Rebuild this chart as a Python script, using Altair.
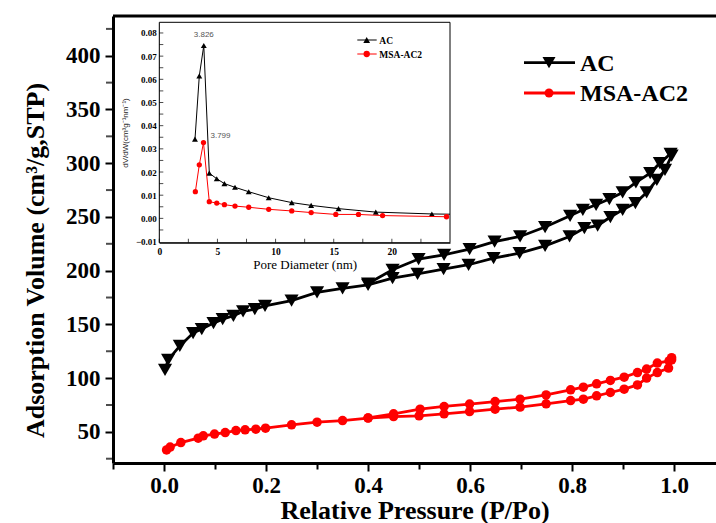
import altair as alt
import pandas as pd

# ---------------- main isotherm data ----------------
series_names = ["AC", "MSA-AC2"]

ac_ads_p = [0.002, 0.008, 0.031, 0.057, 0.074, 0.097, 0.115, 0.136, 0.155, 0.178, 0.198,
            0.25, 0.30, 0.35, 0.40, 0.448, 0.497, 0.548, 0.597, 0.646, 0.697, 0.747,
            0.795, 0.824, 0.85, 0.875, 0.899, 0.924, 0.946, 0.966, 0.982, 0.995]
ac_ads_v = [107.7, 117, 130, 141.9, 145.6, 151.2, 154.9, 158, 162, 164.2, 167.3,
            172.2, 179.7, 183.5, 186.8, 193.1, 197.1, 201.4, 205.5, 211.7, 216.3, 223.1,
            231.8, 239.6, 241.8, 249.9, 256.6, 262.9, 272.8, 284.6, 293.9, 307]
ac_des_p = [0.993, 0.972, 0.953, 0.925, 0.899, 0.873, 0.847, 0.821, 0.796, 0.747,
            0.698, 0.648, 0.599, 0.549, 0.499, 0.448, 0.40]
ac_des_v = [308.8, 300.1, 290.8, 282.1, 272.8, 266.6, 261.3, 256.6, 251.1, 240.6,
            231.8, 227.1, 220.1, 214.8, 210.8, 200.8, 188]

msa_ads_p = [0.005, 0.012, 0.033, 0.067, 0.077, 0.099, 0.12, 0.141, 0.159, 0.18, 0.199,
             0.25, 0.30, 0.35, 0.40, 0.45, 0.50, 0.549, 0.599, 0.649, 0.698, 0.749,
             0.797, 0.822, 0.848, 0.875, 0.902, 0.928, 0.946, 0.967, 0.989, 0.995]
msa_ads_v = [33.2, 35.8, 40.0, 44.1, 46.3, 47.9, 49.3, 51.2, 51.9, 52.5, 53.4,
             56.5, 59.0, 60.5, 62.8, 64.2, 64.9, 66.8, 68.9, 71.1, 73.0, 76.1,
             79.1, 80.4, 83.5, 86.6, 89.7, 93.7, 100, 105.2, 109.3, 117]
msa_des_p = [0.995, 0.99, 0.967, 0.946, 0.928, 0.902, 0.875, 0.848, 0.822, 0.797,
             0.749, 0.698, 0.649, 0.599, 0.549, 0.502, 0.45, 0.40]
msa_des_v = [119, 116, 114, 108.4, 105.2, 100.9, 97.8, 94.7, 91.6, 89.1,
             84.4, 80.4, 78.2, 75.8, 73.6, 71.1, 66.8, 63]

x_ticks = [-0.1, 0.0, 0.1, 0.2, 0.3, 0.4, 0.5, 0.6, 0.7, 0.8, 0.9, 1.0]
y_major = [50, 100, 150, 200, 250, 300, 350, 400]
y_minor = [25, 75, 125, 175, 225, 275, 325, 375, 425]

# ---------------- inset pore-size data ----------------
ac_d = [3.07, 3.44, 3.826, 4.30, 4.94, 5.60, 6.51, 7.69, 9.41, 11.39, 13.06, 15.41, 18.62, 23.44, 25.0]
ac_dv = [0.0342, 0.0615, 0.0746, 0.0195, 0.0171, 0.0150, 0.0134, 0.0115, 0.0089, 0.0068,
         0.0056, 0.0042, 0.0027, 0.0019, 0.0018]
msa_d = [3.10, 3.44, 3.799, 4.30, 4.94, 5.60, 6.51, 7.69, 9.41, 11.39, 13.06, 15.18, 17.13, 19.2, 24.7]
msa_dv = [0.0115, 0.0231, 0.0327, 0.0072, 0.0066, 0.0059, 0.0053, 0.0048, 0.0039, 0.0032,
          0.0025, 0.0017, 0.0017, 0.0012, 0.0007]
peak_labels = ["3.826", "3.799"]

inset_x_labels = [0, 5, 10, 15, 20]
inset_x_minor = [0, 2.5, 5, 7.5, 10, 12.5, 15, 17.5, 20, 22.5]
inset_y_labels = [-0.01, 0.0, 0.01, 0.02, 0.03, 0.04, 0.05, 0.06, 0.07, 0.08]
inset_y_minor = [-0.005, 0.0, 0.005, 0.01, 0.015, 0.02, 0.025, 0.03, 0.035, 0.04,
                 0.045, 0.05, 0.055, 0.06, 0.065, 0.07, 0.075, 0.08]

# ---------------- layout ----------------
W, H = 603, 447
SERIF = "Liberation Serif"
SANS = "Liberation Sans"

XMIN, XMAX = -0.1, 1.082
YMIN, YMAX = 21, 437
main_x = alt.Scale(domain=[XMIN, XMAX], nice=False, zero=False)
main_y = alt.Scale(domain=[YMIN, YMAX], nice=False, zero=False)

IXMIN, IXMAX = 0, 25
IYMIN, IYMAX = -0.0105, 0.0846
inset_x = alt.Scale(domain=[IXMIN, IXMAX], range=[46.3, 337], nice=False, zero=False)
inset_y = alt.Scale(domain=[IYMIN, IYMAX], range=[226.7, 6.3], nice=False, zero=False)


def path_df(p1, v1, p2, v2):
    p = list(p1) + list(p2)
    v = list(v1) + list(v2)
    return pd.DataFrame({"p": p, "v": v, "order": list(range(len(p)))})


ac_df = path_df(ac_ads_p, ac_ads_v, ac_des_p, ac_des_v)
msa_df = path_df(msa_ads_p, msa_ads_v, msa_des_p, msa_des_v)
dummy = pd.DataFrame({"k": [0]})

x_axis = alt.Axis(
    values=x_ticks,
    labelExpr="abs(round(datum.value*10)) % 2 == 0 ? format(datum.value, '.1f') : ''",
    tickSize={"condition": {"test": "abs(round(datum.value*10)) % 2 == 0", "value": 8}, "value": 6},
    title="Relative Pressure (P/Po)",
    labelFlush=False, labelOverlap=False, labelPadding=3, titlePadding=0,
    grid=False,
)
y_axis = alt.Axis(
    values=y_major, format="d", tickSize=8,
    title="Adsorption Volume (cm³/g,STP)",
    labelFlush=False, labelOverlap=False, labelPadding=5, titlePadding=17,
    titleY=244, grid=False,
)

ac_line = alt.Chart(ac_df).mark_line(color="black", strokeWidth=2.8).encode(
    x=alt.X("p:Q", scale=main_x, axis=x_axis),
    y=alt.Y("v:Q", scale=main_y, axis=y_axis),
    order="order:Q",
)
ac_pts = alt.Chart(ac_df).mark_point(shape="triangle-down", filled=True, color="black",
                                     size=200, opacity=1).encode(
    x=alt.X("p:Q", scale=main_x), y=alt.Y("v:Q", scale=main_y))
msa_line = alt.Chart(msa_df).mark_line(color="#ff0000", strokeWidth=2.8).encode(
    x=alt.X("p:Q", scale=main_x), y=alt.Y("v:Q", scale=main_y), order="order:Q")
msa_pts = alt.Chart(msa_df).mark_point(shape="circle", filled=True, color="#ff0000",
                                       size=90, opacity=1).encode(
    x=alt.X("p:Q", scale=main_x), y=alt.Y("v:Q", scale=main_y))

y_minor_ticks = alt.Chart(pd.DataFrame({"t": y_minor})).mark_tick(
    color="black", size=6, thickness=2, xOffset=-4, orient="horizontal").encode(
    y=alt.Y("t:Q", scale=main_y), x=alt.XDatum(XMIN, scale=main_x))

top_rule = alt.Chart(dummy).mark_rule(color="black", strokeWidth=3).encode(
    x=alt.XDatum(XMIN, scale=main_x), x2=alt.X2Datum(XMAX), y=alt.YDatum(YMAX, scale=main_y))


def legend_entry(y, color, shape, size, label, x0, x1, xm, xt, fs, sw):
    line = alt.Chart(dummy).mark_rule(color=color, strokeWidth=sw).encode(
        x=alt.value(x0), x2=alt.value(x1), y=alt.value(y))
    pt = alt.Chart(dummy).mark_point(shape=shape, filled=True, color=color, size=size,
                                     opacity=1).encode(x=alt.value(xm), y=alt.value(y))
    txt = alt.Chart(dummy).mark_text(align="left", baseline="middle", font=SERIF,
                                     fontWeight="bold", fontSize=fs, color="black").encode(
        x=alt.value(xt), y=alt.value(y + 1), text=alt.value(label))
    return [line, pt, txt]


main_legend = (legend_entry(46.7, "black", "triangle-down", 170, series_names[0], 411, 462, 436, 467, 24, 2.8)
               + legend_entry(77, "#ff0000", "circle", 80, series_names[1], 411, 462, 436, 467, 24, 2.8))

main = alt.layer(ac_line, ac_pts, msa_line, msa_pts, y_minor_ticks, top_rule, *main_legend)

# ---------------- inset ----------------
ins_ac_df = pd.DataFrame({"d": ac_d, "dv": ac_dv})
ins_msa_df = pd.DataFrame({"d": msa_d, "dv": msa_dv})

inset_x_axis = alt.Axis(
    orient="bottom", offset=-(H - 226.7), values=inset_x_labels, ticks=False,
    domainWidth=1, domainColor="black", labelFont=SERIF, labelFontWeight="bold",
    labelFontSize=9.5, labelPadding=4, labelFlush=False, grid=False,
    title="Pore Diameter (nm)", titleFont=SERIF, titleFontWeight="normal", titleFontSize=13,
    titlePadding=2, labelColor="black", titleColor="black",
)
inset_y_axis = alt.Axis(
    orient="left", offset=-46.3, values=inset_y_labels, format=".2f", ticks=False,
    domainWidth=1, domainColor="black", labelFont=SERIF, labelFontWeight="bold",
    labelFontSize=9, labelPadding=3, labelFlush=False, grid=False,
    title="dV/dW(cm³g⁻¹nm⁻¹)", titleFont=SANS, titleFontWeight="normal", titleFontSize=8,
    titlePadding=6, labelColor="black", titleColor="#222222",
)

inset_frame = alt.Chart(dummy).mark_rect(fill="white", stroke="black", strokeWidth=1).encode(
    x=alt.XDatum(IXMIN, scale=inset_x, axis=inset_x_axis), x2=alt.X2Datum(IXMAX),
    y=alt.YDatum(IYMIN, scale=inset_y, axis=inset_y_axis), y2=alt.Y2Datum(IYMAX))

ins_xt = alt.Chart(pd.DataFrame({"t": inset_x_minor})).mark_tick(
    color="black", size=4, thickness=1, yOffset=-2, orient="vertical").encode(
    x=alt.X("t:Q", scale=inset_x), y=alt.YDatum(IYMIN, scale=inset_y))
ins_yt = alt.Chart(pd.DataFrame({"t": inset_y_minor})).mark_tick(
    color="black", size=4, thickness=1, xOffset=2, orient="horizontal").encode(
    y=alt.Y("t:Q", scale=inset_y), x=alt.XDatum(IXMIN, scale=inset_x))

ins_ac_line = alt.Chart(ins_ac_df).mark_line(color="black", strokeWidth=1).encode(
    x=alt.X("d:Q", scale=inset_x), y=alt.Y("dv:Q", scale=inset_y))
ins_ac_pts = alt.Chart(ins_ac_df.iloc[:-1]).mark_point(shape="triangle-up", filled=True,
                                                       color="black", size=35, opacity=1).encode(
    x=alt.X("d:Q", scale=inset_x), y=alt.Y("dv:Q", scale=inset_y))
ins_msa_line = alt.Chart(ins_msa_df).mark_line(color="#ff0000", strokeWidth=1).encode(
    x=alt.X("d:Q", scale=inset_x), y=alt.Y("dv:Q", scale=inset_y))
ins_msa_pts = alt.Chart(ins_msa_df).mark_point(shape="circle", filled=True,
                                               color="#ff0000", size=28, opacity=1).encode(
    x=alt.X("d:Q", scale=inset_x), y=alt.Y("dv:Q", scale=inset_y))

ann1 = alt.Chart(pd.DataFrame({"d": [ac_d[2]], "dv": [ac_dv[2]], "t": [peak_labels[0]]})).mark_text(
    font=SANS, fontSize=8, color="#555555", dy=-10, align="center").encode(
    x=alt.X("d:Q", scale=inset_x), y=alt.Y("dv:Q", scale=inset_y), text="t:N")
ann2 = alt.Chart(pd.DataFrame({"d": [msa_d[2]], "dv": [msa_dv[2]], "t": [peak_labels[1]]})).mark_text(
    font=SANS, fontSize=8, color="#555555", dx=7, dy=-7, align="left").encode(
    x=alt.X("d:Q", scale=inset_x), y=alt.Y("dv:Q", scale=inset_y), text="t:N")

inset_legend = (legend_entry(24, "black", "triangle-up", 45, series_names[0], 244.3, 263.7, 253.7, 266.3, 9.5, 1)
                + legend_entry(38, "#ff0000", "circle", 40, series_names[1], 244.3, 263.7, 253.7, 266.3, 9.5, 1))

inset = alt.layer(inset_frame, ins_xt, ins_yt, ins_ac_line, ins_ac_pts, ins_msa_line, ins_msa_pts,
                  ann1, ann2, *inset_legend)

chart = alt.layer(main, inset).resolve_scale(x="independent", y="independent").properties(
    width=W, height=H,
    autosize=alt.AutoSizeParams(type="none"),
    padding={"left": 113, "top": 16, "right": 0, "bottom": 60},
    background="white",
).configure_view(stroke=None).configure_axis(
    domainColor="black", domainWidth=3, tickColor="black", tickWidth=2,
    labelFont=SERIF, labelFontWeight="bold", labelFontSize=23, labelColor="black",
    titleFont=SERIF, titleFontWeight="bold", titleFontSize=26, titleColor="black",
)

chart.save("out.html", embed_options={"renderer": "svg", "actions": False})
